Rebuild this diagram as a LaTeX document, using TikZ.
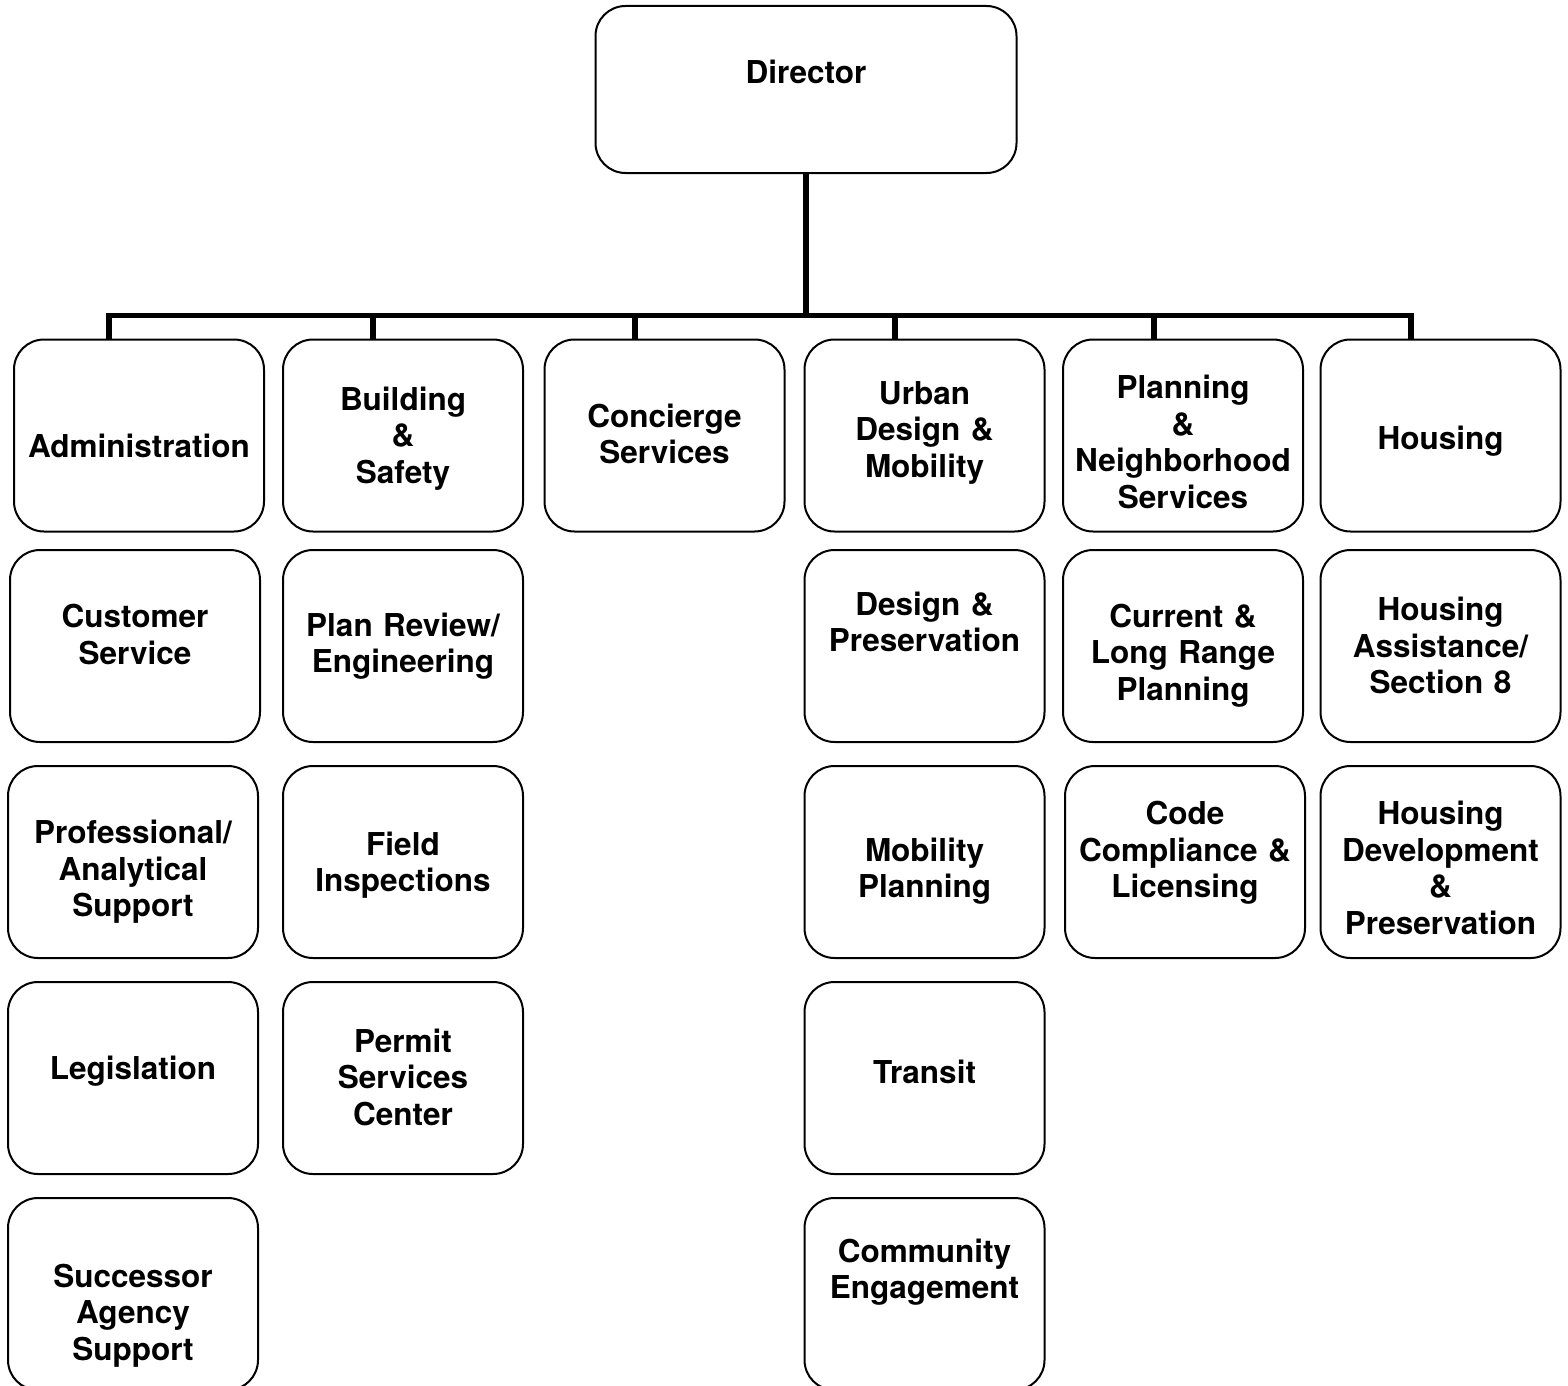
\documentclass[tikz,border=0pt]{standalone}
\usepackage{fontspec}
\setmainfont{TeX Gyre Heros}
\begin{document}
\begin{tikzpicture}[x=0.5pt,y=-0.5pt,
  orgbox/.style={draw, line width=1pt, rounded corners=15pt, inner sep=0pt, outer sep=0pt,
                 minimum width=120pt, minimum height=96pt},
  widebox/.style={orgbox, minimum width=125pt},
  lbl/.style={anchor=base, align=center, text width=125pt, inner sep=0pt,
              font=\fontsize{15.75pt}{18.35pt}\selectfont\bfseries},
  trunk/.style={line width=3.2pt},
  barline/.style={line width=2.75pt, line join=miter},
  dropline/.style={line width=2.6pt}]
\clip (0,0) rectangle (1568,1386);

% Director
\node[orgbox, minimum width=210.5pt, minimum height=83.5pt] (director) at (806,89.5) {};
\node[lbl] (t-director) at (806,83.5) {Director};

% Row 1
\node[widebox] (admin) at (139,435.5) {};
\node[orgbox] (building) at (403,435.5) {};
\node[orgbox] (concierge) at (664.5,435.5) {};
\node[orgbox] (urban) at (924.5,435.5) {};
\node[orgbox] (planning) at (1183,435.5) {};
\node[orgbox] (housing) at (1440.5,435.5) {};

% Row 2
\node[widebox] (customer) at (135,646) {};
\node[orgbox] (planreview) at (403,646) {};
\node[orgbox] (design) at (924.5,646) {};
\node[orgbox] (current) at (1183,646) {};
\node[orgbox] (hassist) at (1440.5,646) {};

% Row 3
\node[widebox] (professional) at (133,862) {};
\node[orgbox] (field) at (403,862) {};
\node[orgbox] (mobility) at (924.5,862) {};
\node[orgbox] (code) at (1185,862) {};
\node[orgbox] (hdev) at (1440.5,862) {};

% Row 4
\node[widebox] (legislation) at (133,1078) {};
\node[orgbox] (permit) at (403,1078) {};
\node[orgbox] (transit) at (924.5,1078) {};

% Row 5
\node[widebox] (successor) at (133,1294) {};
\node[orgbox] (community) at (924.5,1294) {};

% Labels
\node[lbl] (t-admin) at (139,457) {Administration};
\node[lbl] (t-building) at (403,410) {Building\\\&\\Safety};
\node[lbl] (t-concierge) at (664.5,427) {Concierge\\Services};
\node[lbl] (t-urban) at (924.5,404) {Urban\\Design \&\\Mobility};
\node[lbl] (t-planning) at (1183,398.5) {Planning\\\&\\Neighborhood\\Services};
\node[lbl] (t-housing) at (1440.5,449) {Housing};

\node[lbl] (t-customer) at (135,627.5) {Customer\\Service};
\node[lbl] (t-planreview) at (403,636) {Plan Review/\\Engineering};
\node[lbl] (t-design) at (924.5,615) {Design \&\\Preservation};
\node[lbl] (t-current) at (1183,627) {Current \&\\Long Range\\Planning};
\node[lbl] (t-hassist) at (1440.5,620.5) {Housing\\Assistance/\\Section 8};

\node[lbl] (t-professional) at (133,843.5) {Professional/\\Analytical\\Support};
\node[lbl] (t-field) at (403,855) {Field\\Inspections};
\node[lbl] (t-mobility) at (924.5,861) {Mobility\\Planning};
\node[lbl] (t-code) at (1185,824.5) {Code\\Compliance \&\\Licensing};
\node[lbl] (t-hdev) at (1440.5,824.5) {Housing\\Development\\\&\\Preservation};

\node[lbl] (t-legislation) at (133,1079) {Legislation};
\node[lbl] (t-permit) at (403,1052) {Permit\\Services\\Center};
\node[lbl] (t-transit) at (924.5,1083.5) {Transit};

\node[lbl] (t-successor) at (133,1287) {Successor\\Agency\\Support};
\node[lbl] (t-community) at (924.5,1262) {Community\\Engagement};

% Connectors
\coordinate (j1) at (109,315.7);
\coordinate (j2) at (373,315.7);
\coordinate (j3) at (635,315.7);
\coordinate (j4) at (895,315.7);
\coordinate (j5) at (1154,315.7);
\coordinate (j6) at (1411,315.7);

\draw[trunk] (director.south) -- (director.south |- j4);
\draw[barline] (j1 |- admin.north) -- (j1) -- (j6) -- (j6 |- housing.north);
\draw[dropline] (j2) -- (j2 |- building.north);
\draw[dropline] (j3) -- (j3 |- concierge.north);
\draw[dropline] (j4) -- (j4 |- urban.north);
\draw[dropline] (j5) -- (j5 |- planning.north);
\end{tikzpicture}
\end{document}
